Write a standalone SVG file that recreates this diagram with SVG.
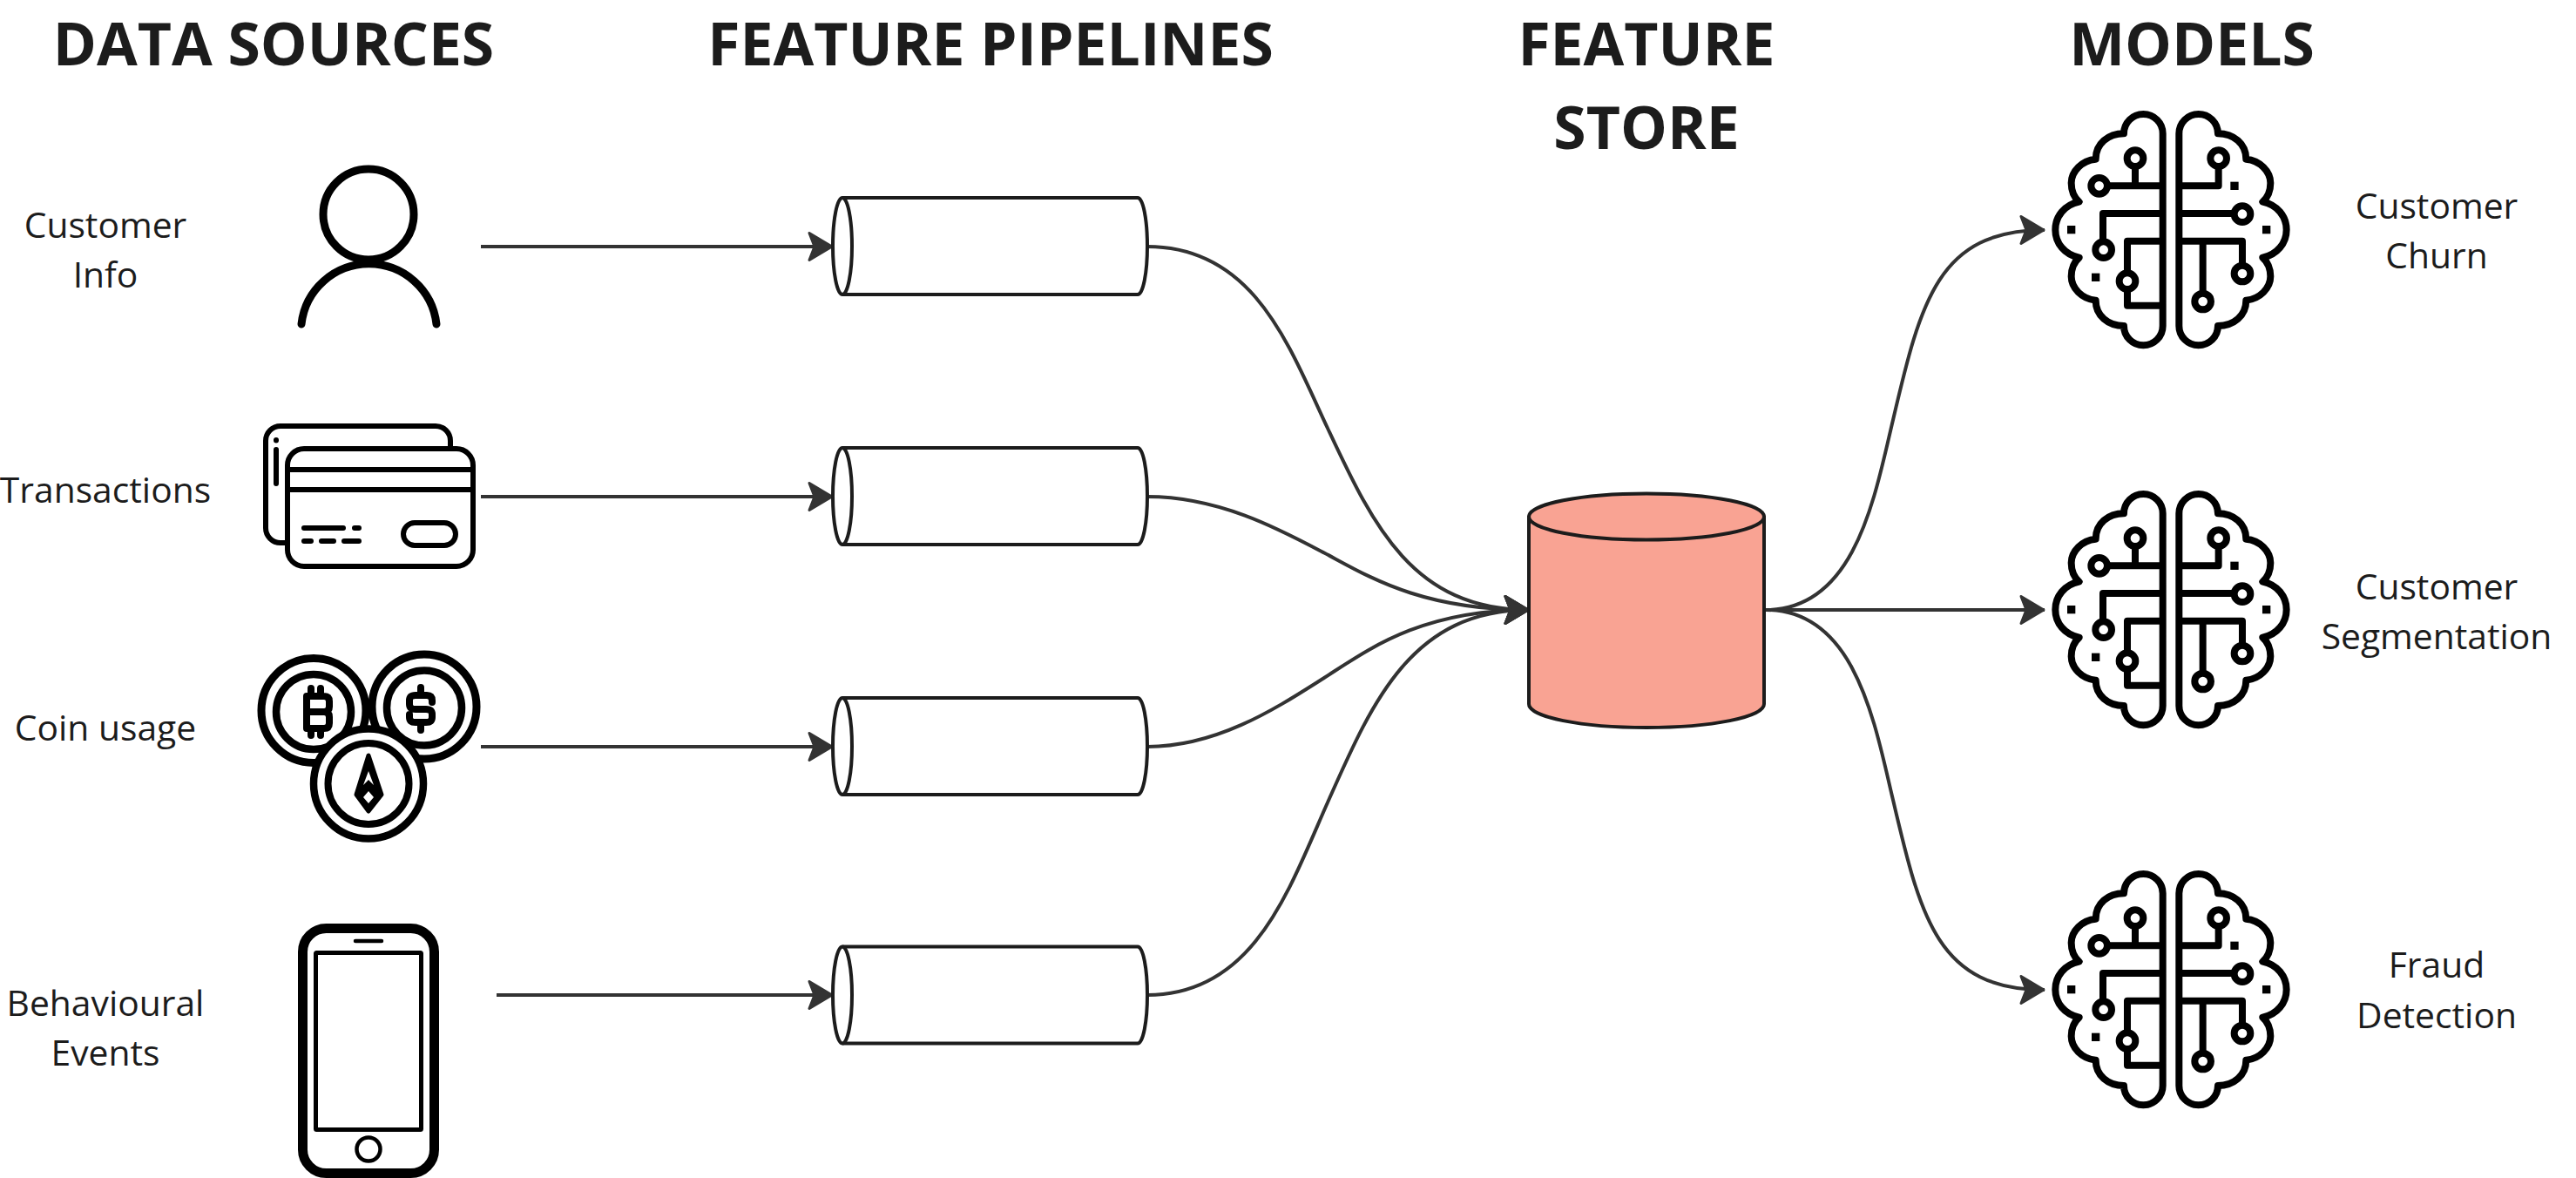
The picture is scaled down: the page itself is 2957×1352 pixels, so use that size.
<svg xmlns="http://www.w3.org/2000/svg" xmlns:xlink="http://www.w3.org/1999/xlink" width="2957" height="1352" viewBox="0 0 2957 1352">
<style>
text{font-family:"Open Sans","Noto Sans","Liberation Sans",sans-serif;fill:#1c1c1c;text-anchor:middle}
.h{font-size:67.8px;font-weight:700}
.l{font-size:40.8px;font-weight:400}
.ico{fill:none;stroke:#000;stroke-linecap:round;stroke-linejoin:round}
.cyl{fill:#fff;stroke:#1c1c1c;stroke-width:4;stroke-linejoin:round}
.store{fill:#f9a393;stroke:#1c1c1c;stroke-width:4;stroke-linejoin:round}
.con{fill:none;stroke:#333;stroke-width:4}
.arr{marker-end:url(#ah)}
</style>
<defs>
<marker id="ah" markerUnits="userSpaceOnUse" markerWidth="34" markerHeight="40" refX="30" refY="20" orient="auto" overflow="visible">
<path d="M3 4.5 L29 20 L3 35.5 L9 20Z" fill="#333" stroke="#333" stroke-width="3" stroke-linejoin="round"/>
</marker>
<g id="pipe">
<path class="cyl" d="M967 227H1306A11 55.5 0 0 1 1306 338H967A11 55.5 0 0 1 967 227Z"/>
<path class="cyl" fill="none" d="M967 227A11 55.5 0 0 1 967 338"/>
</g>
<g id="brain" transform="scale(.3333)">
<g fill="none" stroke="#000" stroke-width="24" stroke-linejoin="round" stroke-linecap="round">
<path d="M428 130A67 67 0 0 0 294 130C240 130 197 165 197 218C150 222 113 260 113 300C113 330 125 352 140 365C90 375 58 415 58 461C58 507 90 547 140 557C125 570 113 592 113 622C113 662 150 700 197 704C197 757 240 792 294 792A67 67 0 0 0 428 792Z"/>
<path d="M484 130A67 67 0 0 1 618 130C672 130 715 165 715 218C762 222 799 260 799 300C799 330 787 352 772 365C822 375 854 415 854 461C854 507 822 547 772 557C787 570 799 592 799 622C799 662 762 700 715 704C715 757 672 792 618 792A67 67 0 0 1 484 792Z"/>
<path stroke-linecap="butt" d="M333 215V310M222 310H428M428 405H222V530M428 500H306V722H428M620 215V310H484M484 405H702M484 500H702V612M566 500V708"/>
</g>
<g fill="#fff" stroke="#000" stroke-width="24">
<circle cx="333" cy="215" r="28"/><circle cx="209" cy="310" r="28"/><circle cx="224" cy="530" r="28"/><circle cx="306" cy="638" r="28"/>
<circle cx="620" cy="215" r="28"/><circle cx="702" cy="407" r="28"/><circle cx="702" cy="612" r="28"/><circle cx="566" cy="708" r="28"/>
</g>
<g fill="#000"><rect x="99" y="447" width="28" height="28"/><rect x="183" y="611" width="28" height="28"/><rect x="661" y="296" width="28" height="28"/><rect x="771" y="447" width="28" height="28"/></g>
</g>
</defs>
<rect width="2957" height="1352" fill="#fff"/>
<g id="connectors">
<path class="con arr" d="M552 283H956"/>
<path class="con arr" d="M552 570H956"/>
<path class="con arr" d="M552 857H956"/>
<path class="con arr" d="M570 1142H956"/>
<path class="con arr" d="M1317 283C1440 283 1480 398 1524 491.5C1575 600 1620 700 1755 700"/>
<path class="con arr" d="M1317 570C1400 570 1470 608 1520 634.5C1570 661 1630 700 1755 700"/>
<path class="con arr" d="M1317 857C1400 857 1470 809.5 1520 778C1570 746 1630 700 1755 700"/>
<path class="con arr" d="M1317 1142C1440 1142 1480 1020 1524 921C1575 806 1620 700 1755 700"/>
<path class="con arr" d="M2027 700C2130 700 2152 570 2173 482C2205 345 2225 264 2347 264"/>
<path class="con arr" d="M2027 700H2347"/>
<path class="con arr" d="M2027 700C2130 700 2152 830 2173 918C2205 1055 2225 1136 2347 1136"/>
</g>
<g id="titles">
<text class="h" x="314" y="75">DATA SOURCES</text>
<text class="h" x="1137" y="75">FEATURE PIPELINES</text>
<text class="h" x="1890" y="75">FEATURE</text>
<text class="h" x="1890" y="171">STORE</text>
<text class="h" x="2516" y="75">MODELS</text>
</g>
<g id="customer-info">
<text class="l" x="121" y="273">Customer</text><text class="l" x="121" y="330">Info</text>
<g class="ico" stroke-width="9"><circle cx="423" cy="246" r="52"/><path d="M346 372A78 78 0 0 1 501 372"/></g>
</g>
<g id="transactions">
<text class="l" x="121" y="577">Transactions</text>
<g class="ico" stroke-width="6">
<path d="M330 623H322A17 17 0 0 1 305 606V506A17 17 0 0 1 322 489H500A17 17 0 0 1 517 506V515"/>
<rect x="330" y="515" width="213" height="135" rx="19"/>
<path d="M330 539H543M330 562H543M349 606H394M407 606H412M349 621H357M369 621H383M395 621H412M317 505V505.5M317 516V555"/>
<rect x="463" y="600" width="60" height="26" rx="13"/>
</g>
</g>
<g id="coin-usage">
<text class="l" x="121" y="850">Coin usage</text>
<g fill="#fff" stroke="#000">
<circle cx="487" cy="811" r="60" stroke-width="9"/><circle cx="487" cy="812.5" r="43" stroke-width="8.5"/>
<circle cx="360" cy="815.5" r="60" stroke-width="9"/><circle cx="360" cy="817" r="43" stroke-width="8.5"/>
<circle cx="423" cy="899.5" r="63" stroke-width="8.5"/><circle cx="423" cy="899.5" r="46.5" stroke-width="8"/>
</g>
<g class="ico" stroke-width="8">
<path d="M352 799H372Q378 799 378 805V811Q378 817 372 817H352M372 817Q378 817 378 823V830Q378 836 372 836H352V799M357 790V799M368 790V799M357 836V844M368 836V844"/>
<path d="M496 806V804Q496 798 490 798H477Q470 798 470 804V808Q470 814 477 814H489Q496 814 496 820V823Q496 829 489 829H477Q470 829 470 823V820M483 789V798M483 829V838"/>
</g>
<path fill="#000" stroke="#000" stroke-width="5" stroke-linejoin="round" d="M423 867L409 912L423 931L438 912Z"/>
<path fill="#fff" d="M423 885L417 901L423 895L429 901ZM423 908L417 915L423 922L429 915Z"/>
</g>
<g id="behavioural-events">
<text class="l" x="121" y="1166">Behavioural</text><text class="l" x="121" y="1223">Events</text>
<g class="ico">
<rect x="347.5" y="1065.5" width="151" height="281" rx="27" stroke-width="11"/>
<rect x="362.5" y="1093.5" width="121" height="203" stroke-width="5" rx="1"/>
<path d="M408 1080H438" stroke-width="4.5"/>
<circle cx="423" cy="1319" r="13.5" stroke-width="4.5"/>
</g>
</g>
<g id="pipeline-1"><use xlink:href="#pipe" href="#pipe"/></g>
<g id="pipeline-2"><use xlink:href="#pipe" href="#pipe" y="287"/></g>
<g id="pipeline-3"><use xlink:href="#pipe" href="#pipe" y="574"/></g>
<g id="pipeline-4"><use xlink:href="#pipe" href="#pipe" y="859.5"/></g>
<g id="feature-store">
<path class="store" d="M1755 593V808C1755 823 1815 835 1890 835S2025 823 2025 808V593Z"/>
<ellipse class="store" cx="1890" cy="593" rx="135" ry="26.5"/>
</g>
<g id="model-churn">
<g transform="translate(2340 110)"><use xlink:href="#brain" href="#brain"/></g>
<text class="l" x="2797" y="251">Customer</text><text class="l" x="2797" y="308">Churn</text>
</g>
<g id="model-segmentation">
<g transform="translate(2340 546)"><use xlink:href="#brain" href="#brain"/></g>
<text class="l" x="2797" y="688">Customer</text><text class="l" x="2797" y="745">Segmentation</text>
</g>
<g id="model-fraud">
<g transform="translate(2340 982)"><use xlink:href="#brain" href="#brain"/></g>
<text class="l" x="2797" y="1122">Fraud</text><text class="l" x="2797" y="1180">Detection</text>
</g>
</svg>
